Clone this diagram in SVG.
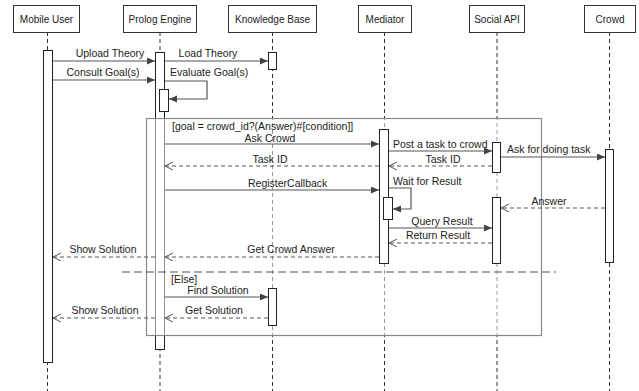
<svg xmlns="http://www.w3.org/2000/svg" width="639" height="391" viewBox="0 0 639 391">
<style>
text{font-family:"Liberation Sans",Arial,sans-serif;font-size:10.5px;fill:#222}
.hd{font-size:10px;text-anchor:middle}
.mid{text-anchor:middle}
.box{fill:#fff;stroke:#333;stroke-width:1}
.life{stroke:#333;stroke-width:1;stroke-dasharray:4 3;fill:none}
.act{fill:#fff;stroke:#222;stroke-width:1}
.msg{stroke:#555;stroke-width:1.2;fill:none;marker-end:url(#fa)}
.ret{stroke:#555;stroke-width:1;stroke-dasharray:4 3;fill:none;marker-end:url(#oa)}
</style>
<defs>
<marker id="fa" markerUnits="userSpaceOnUse" markerWidth="9" markerHeight="8" refX="8" refY="3.5" orient="auto"><path d="M0,0 L8,3.5 L0,7 z" fill="#444"/></marker>
<marker id="oa" markerUnits="userSpaceOnUse" markerWidth="10" markerHeight="10" refX="8" refY="4" orient="auto"><path d="M0,0 L8,4 L0,8" fill="none" stroke="#555" stroke-width="1"/></marker>
</defs>
<rect width="639" height="391" fill="#fff"/>

<g id="mobile-user">
<line class="life" x1="47.5" y1="32" x2="47.5" y2="391"/>
<rect class="box" x="13.5" y="5.5" width="66" height="27"/>
<text class="hd" x="46.5" y="23">Mobile User</text>
<rect class="act" x="43.5" y="50.5" width="9" height="312"/>
</g>
<g id="prolog-engine">
<line class="life" x1="160" y1="32" x2="160" y2="391"/>
<rect class="box" x="123.5" y="5.5" width="73" height="27"/>
<text class="hd" x="160" y="23">Prolog Engine</text>
<rect class="act" x="155.5" y="52.5" width="9" height="297"/>
<rect class="act" x="159.5" y="89.5" width="9" height="22"/>
</g>
<g id="knowledge-base">
<line class="life" x1="272.5" y1="32" x2="272.5" y2="391"/>
<rect class="box" x="228.5" y="5.5" width="88" height="27"/>
<text class="hd" x="272.5" y="23">Knowledge Base</text>
<rect class="act" x="268.5" y="52.5" width="8" height="17"/>
</g>
<g id="mediator">
<line class="life" x1="384.5" y1="32" x2="384.5" y2="391"/>
<rect class="box" x="358.5" y="5.5" width="53" height="27"/>
<text class="hd" x="385" y="23">Mediator</text>
</g>
<g id="social-api">
<line class="life" x1="497" y1="32" x2="497" y2="391"/>
<rect class="box" x="469.5" y="5.5" width="55" height="27"/>
<text class="hd" x="497" y="23">Social API</text>
</g>
<g id="crowd">
<line class="life" x1="609.5" y1="32" x2="609.5" y2="391"/>
<rect class="box" x="584.5" y="5.5" width="51" height="27"/>
<text class="hd" x="610" y="23">Crowd</text>
<rect class="act" x="605.5" y="149.5" width="8" height="113"/>
</g>

<g id="alt-frame">
<rect x="146.5" y="118.5" width="395" height="217" fill="#fff" fill-opacity="0.5" stroke="#888" stroke-width="1.2"/>
<text x="172" y="130">[goal = crowd_id?(Answer)#[condition]]</text>
<line x1="122" y1="272" x2="556" y2="272" stroke="#555" stroke-width="1" stroke-dasharray="8 4"/>
<text x="171" y="283">[Else]</text>
</g>

<g id="activations-inner">
<rect class="act" x="379.5" y="129.5" width="9" height="134"/>
<rect class="act" x="383.5" y="197.5" width="9" height="22"/>
<rect class="act" x="492.5" y="142.5" width="8" height="30"/>
<rect class="act" x="492.5" y="197.5" width="8" height="66"/>
<rect class="act" x="268.5" y="288.5" width="8" height="37"/>
</g>

<g id="connectors">
<line class="msg" x1="53" y1="61" x2="155" y2="61"/>
<text class="mid" x="110" y="57">Upload Theory</text>
<line class="msg" x1="165" y1="61" x2="268" y2="61"/>
<text class="mid" x="208" y="57">Load Theory</text>
<line class="msg" x1="53" y1="80" x2="155" y2="80"/>
<text class="mid" x="103" y="76">Consult Goal(s)</text>
<path class="msg" d="M165,81 H207 V99 H169"/>
<text x="170" y="76">Evaluate Goal(s)</text>

<line class="msg" x1="165" y1="144" x2="379" y2="144"/>
<text class="mid" x="270" y="141.5">Ask Crowd</text>
<line class="msg" x1="389" y1="151" x2="492" y2="151"/>
<text x="393" y="147.5">Post a task to crowd</text>
<line class="msg" x1="501" y1="157" x2="605" y2="157"/>
<text x="507" y="153">Ask for doing task</text>
<line class="ret" x1="492" y1="166" x2="389" y2="166"/>
<text class="mid" x="443" y="163">Task ID</text>
<line class="ret" x1="379" y1="166" x2="165" y2="166"/>
<text class="mid" x="270" y="163">Task ID</text>
<line class="msg" x1="165" y1="190" x2="379" y2="190"/>
<text x="248" y="187">RegisterCallback</text>
<path class="msg" d="M389,188 H411 V209 H393"/>
<text x="393" y="185">Wait for Result</text>
<line class="ret" x1="605" y1="208" x2="501" y2="208"/>
<text class="mid" x="549" y="204.5">Answer</text>
<line class="msg" x1="389" y1="228" x2="492" y2="228"/>
<text class="mid" x="442" y="224.5">Query Result</text>
<line class="ret" x1="492" y1="243" x2="389" y2="243"/>
<text class="mid" x="438" y="239">Return Result</text>
<line class="ret" x1="379" y1="257" x2="165" y2="257"/>
<text class="mid" x="291" y="253">Get Crowd Answer</text>
<line class="ret" x1="155" y1="257" x2="53" y2="257"/>
<text class="mid" x="103" y="253">Show Solution</text>

<line class="msg" x1="165" y1="297" x2="268" y2="297"/>
<text class="mid" x="218" y="293.5">Find Solution</text>
<line class="ret" x1="268" y1="318" x2="165" y2="318"/>
<text class="mid" x="214" y="314">Get Solution</text>
<line class="ret" x1="155" y1="318" x2="53" y2="318"/>
<text class="mid" x="105" y="314">Show Solution</text>
</g>
</svg>
